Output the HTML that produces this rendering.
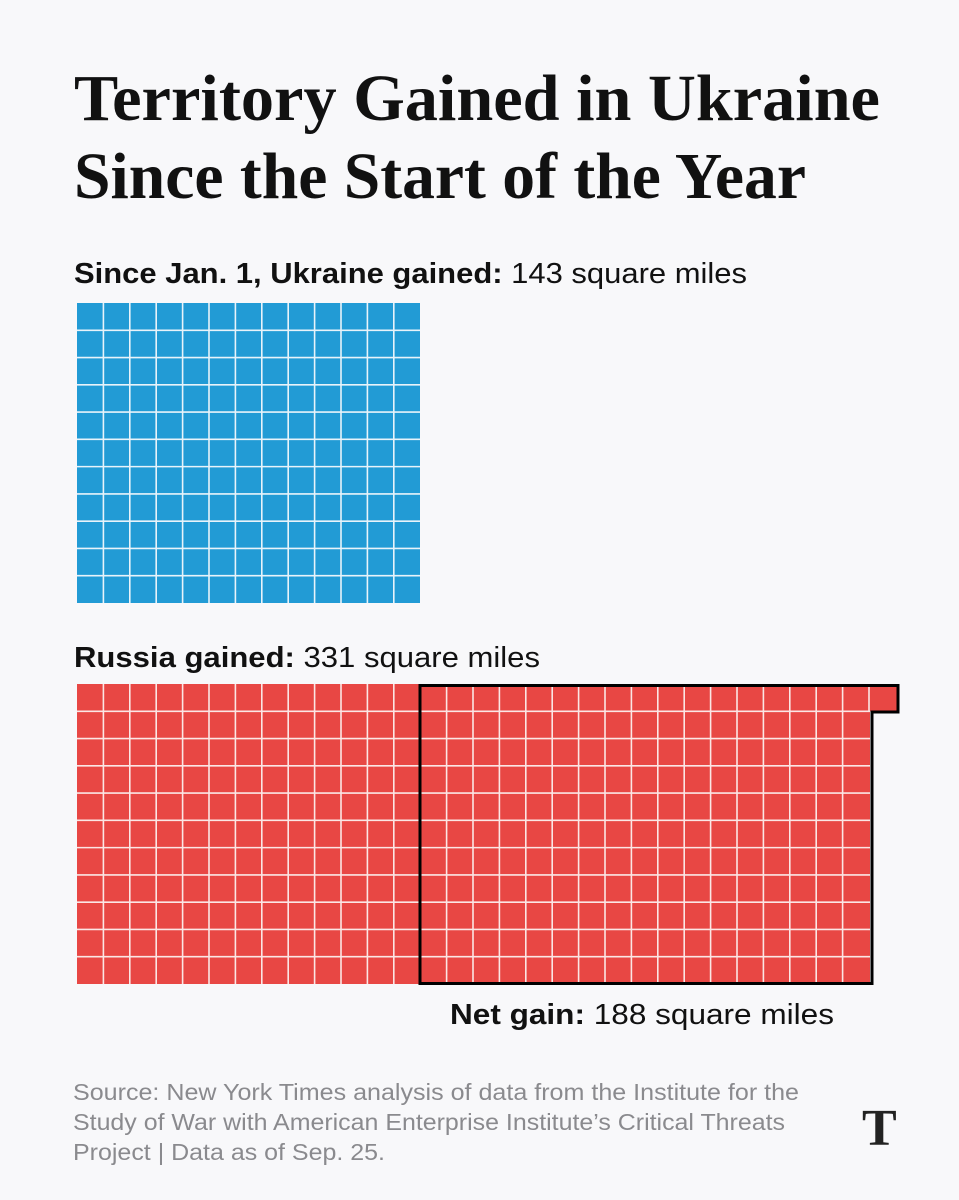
<!DOCTYPE html>
<html><head><meta charset="utf-8"><style>
html,body{margin:0;padding:0;background:#f8f8fa;}
body{width:959px;height:1200px;overflow:hidden;position:relative;font-family:"Liberation Sans",sans-serif;}
</style></head><body>
<svg width="959" height="1200" xmlns="http://www.w3.org/2000/svg" style="position:absolute;left:0;top:0">
<rect width="959" height="1200" fill="#f8f8fa"/>
<text x="74" y="120" font-family="Liberation Serif,serif" font-weight="bold" font-size="66" fill="#111" lengthAdjust="spacingAndGlyphs" textLength="806">Territory Gained in Ukraine</text>
<text x="74" y="198" font-family="Liberation Serif,serif" font-weight="bold" font-size="66" fill="#111" lengthAdjust="spacingAndGlyphs" textLength="732">Since the Start of the Year</text>
<text x="74" y="283" font-size="29" fill="#111" lengthAdjust="spacingAndGlyphs" textLength="673"><tspan font-weight="bold">Since Jan. 1, Ukraine gained:</tspan> 143 square miles</text>
<text x="74" y="667" font-size="29" fill="#111" lengthAdjust="spacingAndGlyphs" textLength="466"><tspan font-weight="bold">Russia gained:</tspan> 331 square miles</text>
<text x="450" y="1024" font-size="29" fill="#111" lengthAdjust="spacingAndGlyphs" textLength="384"><tspan font-weight="bold">Net gain:</tspan> 188 square miles</text>
<rect x="77" y="303" width="343" height="300" fill="#229bd5"/>
<rect x="77" y="684" width="793" height="300" fill="#e84744"/>
<rect x="870" y="684" width="27" height="27.3" fill="#e84744"/>
<path d="M420,685.5 H898 V712 H872 V983.5 H420 Z" fill="none" stroke="#000" stroke-width="3"/>
<g font-size="23" fill="#8a8a8e">
<text x="73" y="1100" lengthAdjust="spacingAndGlyphs" textLength="726">Source: New York Times analysis of data from the Institute for the</text>
<text x="73" y="1130" lengthAdjust="spacingAndGlyphs" textLength="712">Study of War with American Enterprise Institute’s Critical Threats</text>
<text x="73" y="1160" lengthAdjust="spacingAndGlyphs" textLength="312">Project | Data as of Sep. 25.</text>
</g>
<text x="862" y="1145" font-family="Liberation Serif,serif" font-weight="bold" font-size="52" fill="#222">T</text>
</svg>
<script>
var ns="http://www.w3.org/2000/svg",s=document.querySelector('svg');
function ln(x1,y1,x2,y2,c){var l=document.createElementNS(ns,'line');l.setAttribute('x1',x1);l.setAttribute('y1',y1);l.setAttribute('x2',x2);l.setAttribute('y2',y2);l.setAttribute('stroke',c);l.setAttribute('stroke-width','1.6');s.insertBefore(l,s.querySelector('path'));}
var cw=26.4,ch=27.27;
for(var i=1;i<13;i++)ln(77+i*cw,303,77+i*cw,603,'#e8f3fa');
for(var j=1;j<11;j++)ln(77,303+j*ch,420,303+j*ch,'#e8f3fa');
for(var i=1;i<=30;i++)ln(77+i*cw,684,77+i*cw,i==30?711:984,'#fbe6e5');
for(var j=1;j<11;j++)ln(77,684+j*ch,870,684+j*ch,'#fbe6e5');
</script>
</body></html>
